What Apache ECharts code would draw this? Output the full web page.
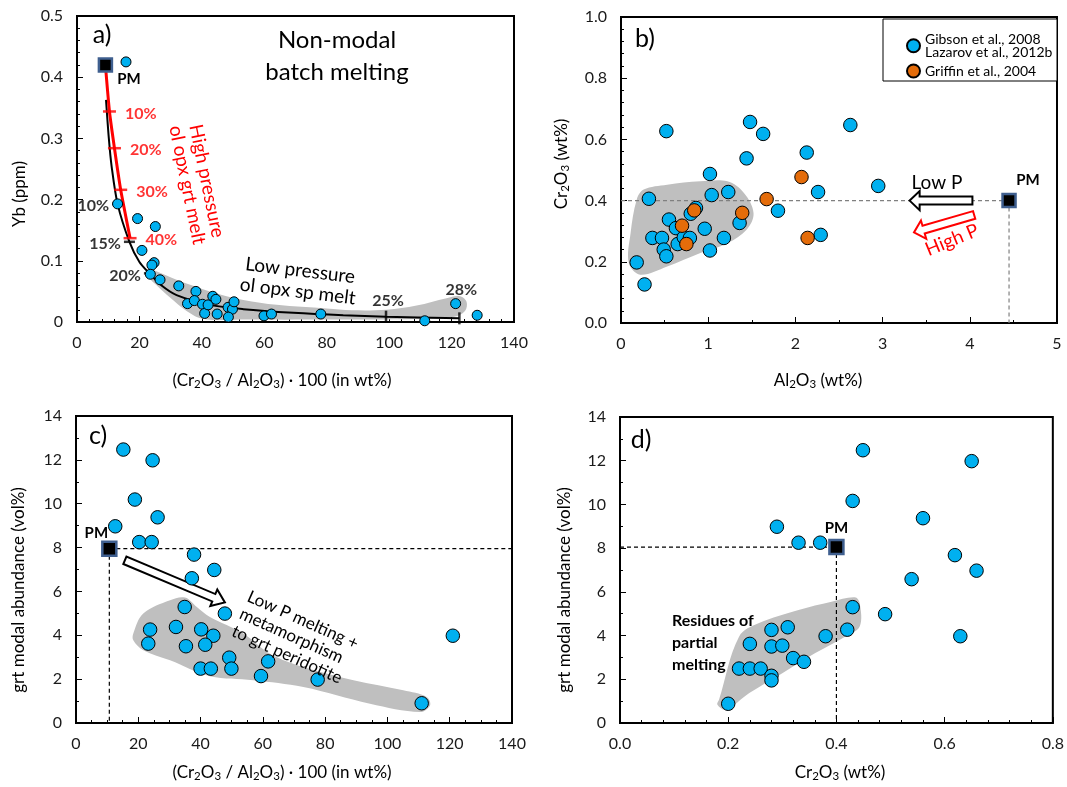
<!DOCTYPE html>
<html><head><meta charset="utf-8">
<script src="https://cdn.jsdelivr.net/npm/echarts@6.0.0/dist/echarts.min.js"></script>
<style>html,body{margin:0;padding:0;background:#fff}#c{width:1067px;height:787px}</style>
</head><body><div id="c"></div>
<script>
// ---------------- DATA ----------------
const BLUE_NAME = 'Gibson et al., 2008\nLazarov et al., 2012b';
const ORANGE_NAME = 'Griffin et al., 2004';

// Panel a
const ticksAx = ['0','20','40','60','80','100','120','140'];
const ticksAy = ['0','0.1','0.2','0.3','0.4','0.5'];
const pmA = [9.1, 0.42];
const blueA = [[15.7,0.425],[13.0,0.193],[19.4,0.169],[25.1,0.156],[20.8,0.117],[24.7,0.097],[24.0,0.093],[23.5,0.078],[26.6,0.069],[32.6,0.059],[38.1,0.050],[35.4,0.030],[37.6,0.035],[40.2,0.029],[40.9,0.014],[42.0,0.028],[43.5,0.042],[44.5,0.037],[44.9,0.013],[48.4,0.024],[49.8,0.021],[50.3,0.033],[48.5,0.008],[59.9,0.010],[62.3,0.013],[78.1,0.013],[111.4,0.002],[121.3,0.030],[128.2,0.011]];
const lowPCurveA = [[9.3,0.363],[10.2,0.30],[11.1,0.254],[13.0,0.193],[16.8,0.131],[20.0,0.098],[23.2,0.0795],[27.0,0.060],[31.9,0.044],[42.6,0.028],[53.3,0.021],[69.3,0.015],[85.3,0.011],[99.0,0.0087],[122.5,0.006]];
const highPTicksA = [[10.4,0.344],[12.0,0.284],[14.0,0.216],[17.0,0.137]];
const highPLabelsA = ['10%','20%','30%','40%'];
const lowPTicksHA = [[13.0,0.193],[16.8,0.131],[23.2,0.0795]];
const lowPLabelsHA = ['10%','15%','20%'];
const lowPTicksVA = [[99.0,0.0087],[122.5,0.006]];
const lowPLabelsVA = ['25%','28%'];
const polyA = [[23.6,0.086],[25.8,0.082],[31.9,0.069],[42.6,0.050],[53.3,0.036],[64,0.028],[80,0.022],[88,0.019],[99.2,0.020],[108.8,0.027],[118.4,0.039],[122.7,0.042],[124.8,0.033],[124.3,0.018],[120.5,0.008],[108.8,0.005],[80,0.004],[55,0.004],[40.5,0.005],[35.1,0.018],[29.8,0.040],[25.5,0.060],[23.0,0.074]];

// Panel b
const ticksBx = ['0','1','2','3','4','5'];
const ticksBy = ['0.0','0.2','0.4','0.6','0.8','1.0'];
const pmB = [4.45, 0.40];
const blueB = [[0.52,0.627],[0.32,0.406],[0.18,0.198],[0.27,0.126],[0.36,0.278],[0.47,0.278],[0.55,0.338],[0.49,0.240],[0.52,0.218],[0.65,0.258],[0.63,0.310],[0.72,0.280],[0.79,0.278],[0.80,0.357],[0.86,0.376],[0.96,0.308],[1.02,0.487],[1.04,0.418],[1.23,0.428],[1.18,0.278],[1.02,0.237],[1.36,0.327],[1.48,0.657],[1.44,0.538],[1.63,0.618],[1.80,0.367],[2.13,0.557],[2.26,0.428],[2.29,0.288],[2.63,0.647],[2.95,0.448]];
const orangeB = [[0.70,0.318],[0.75,0.258],[0.84,0.368],[1.39,0.360],[1.67,0.405],[2.07,0.477],[2.14,0.278]];
const polyB = [[0.26,0.436],[0.53,0.452],[0.91,0.463],[1.22,0.463],[1.41,0.425],[1.52,0.359],[1.44,0.305],[1.22,0.261],[0.91,0.229],[0.53,0.185],[0.22,0.158],[0.09,0.196],[0.11,0.294],[0.18,0.403]];
const lowPArrowB = [4.03,0.40,3.31,0.40];
const highPArrowB = [4.05,0.353,3.36,0.296];

// Panel c
const ticksCx = ['0','20','40','60','80','100','120','140'];
const ticksCy = ['0','2','4','6','8','10','12','14'];
const pmC = [10.7, 7.95];
const blueC = [[15.2,12.47],[24.6,11.98],[18.9,10.19],[26.2,9.38],[12.6,8.97],[20.3,8.25],[24.3,8.25],[37.9,7.68],[37.2,6.60],[44.4,6.98],[47.8,4.99],[34.9,5.29],[23.8,4.26],[23.2,3.62],[32.1,4.38],[40.2,4.27],[44.1,3.98],[35.3,3.50],[41.5,3.57],[49.2,2.98],[40.0,2.48],[43.3,2.48],[49.9,2.48],[61.7,2.81],[59.4,2.14],[77.6,1.98],[111.0,0.90],[121.0,3.98]];
const polyC = [[18.4,4.08],[21.6,4.99],[30.2,5.60],[35.0,5.72],[38.8,5.29],[43.0,4.83],[53.7,4.08],[62.3,3.16],[73.0,2.55],[89.1,1.95],[105.1,1.49],[112.6,1.19],[113.7,0.81],[110.5,0.50],[94.4,0.88],[73.0,1.64],[56.9,1.95],[43.0,2.13],[30.2,2.86],[21.6,3.32],[18.4,3.77]];
const arrowC = [15.7,7.42,47.8,5.50];

// Panel d
const ticksDx = ['0.0','0.2','0.4','0.6','0.8'];
const ticksDy = ['0','2','4','6','8','10','12','14'];
const pmD = [0.40, 8.05];
const blueD = [[0.449,12.48],[0.650,11.98],[0.430,10.16],[0.560,9.37],[0.290,8.98],[0.330,8.25],[0.370,8.25],[0.619,7.68],[0.659,6.97],[0.539,6.58],[0.430,5.30],[0.490,4.98],[0.629,3.97],[0.420,4.27],[0.380,3.97],[0.310,4.38],[0.280,4.26],[0.240,3.62],[0.280,3.50],[0.300,3.54],[0.320,2.97],[0.340,2.80],[0.220,2.49],[0.240,2.49],[0.260,2.49],[0.280,2.16],[0.280,1.95],[0.200,0.88]];
const polyD = [[0.183,1.06],[0.220,3.95],[0.257,4.57],[0.330,5.17],[0.391,5.55],[0.434,5.75],[0.443,5.48],[0.443,4.41],[0.416,3.95],[0.361,3.20],[0.300,2.28],[0.239,1.37],[0.196,0.61],[0.180,0.84]];

// ---------------- STYLE ----------------
const FONT = 'Lato, "Open Sans", "DejaVu Sans", sans-serif';
const BLUE = '#00B0F0', ORANGE = '#E46C0A', GREY = '#BFBFBF', RED = '#FF0000', PMB = '#3F5F8F';

function mkAxis(dim, gi, ticks, minorSplit) {
  const vals = ticks.map(Number);
  const min = vals[0], max = vals[vals.length-1];
  const interval = +(vals[1]-vals[0]).toFixed(6);
  return {
    type:'value', gridIndex:gi, min, max, interval,
    axisLine:{show:true, onZero:false, lineStyle:{color:'#000', width:2}},
    axisTick:{show:true, inside:true, length:6, lineStyle:{color:'#000', width:1}},
    minorTick:{show:true, splitNumber:minorSplit, length:3, lineStyle:{color:'#000', width:1}},
    splitLine:{show:false}, minorSplitLine:{show:false},
    axisLabel:{color:'#1a1a1a', fontSize:16, fontFamily:FONT, margin: dim==='x' ? 13 : 14,
      formatter: v => { const i = Math.round((v-min)/interval); return ticks[i] !== undefined ? ticks[i] : ''; }}
  };
}

function polySeries(gi, pts) {
  return {type:'custom', xAxisIndex:gi, yAxisIndex:gi, z:1, silent:true, data:pts, encode:{x:0, y:1},
    renderItem:(params, api) => params.dataIndex === 0 ? {type:'polygon', shape:{points:pts.map(p => api.coord(p)), smooth:0.35}, style:{fill:GREY}} : null};
}
function arrowSeries(gi, seg, color, shaft, head, headLen, lw) {
  return {type:'custom', xAxisIndex:gi, yAxisIndex:gi, z:5, silent:true, data:[seg], dimensions:['x1','y1','x2','y2'], encode:{x:[0,2], y:[1,3]},
    renderItem:(params, api) => {
      const p1 = api.coord([api.value(0), api.value(1)]), p2 = api.coord([api.value(2), api.value(3)]);
      const dx = p2[0]-p1[0], dy = p2[1]-p1[1], L = Math.hypot(dx, dy), ux = dx/L, uy = dy/L, nx = -uy, ny = ux;
      const sw = shaft/2, hw = head/2, bx = p2[0]-ux*headLen, by = p2[1]-uy*headLen;
      const pts = [[p1[0]+nx*sw,p1[1]+ny*sw],[bx+nx*sw,by+ny*sw],[bx+nx*hw,by+ny*hw],[p2[0],p2[1]],[bx-nx*hw,by-ny*hw],[bx-nx*sw,by-ny*sw],[p1[0]-nx*sw,p1[1]-ny*sw]];
      return {type:'polygon', shape:{points:pts}, style:{fill:'#fff', stroke:color, lineWidth:lw}};
    }};
}
function dashed(gi, pts, color) {
  return {type:'line', xAxisIndex:gi, yAxisIndex:gi, data:pts, symbol:'none', silent:true, z:2,
    lineStyle:{color, width:1.2, type:[4,3]}};
}
function blueSeries(gi, data, size) {
  return {type:'scatter', name:BLUE_NAME, xAxisIndex:gi, yAxisIndex:gi, data, symbolSize:size, z:6,
    itemStyle:{color:BLUE, borderColor:'#000', borderWidth:1, opacity:1}};
}
function pmSeries(gi, pm, size, labelCfg) {
  return {type:'scatter', name:'PM', xAxisIndex:gi, yAxisIndex:gi, data:[pm], symbol:'rect', symbolSize:size, z:7,
    itemStyle:{color:'#000', borderColor:PMB, borderWidth:2.5, opacity:1},
    label:Object.assign({show:true, formatter:'PM', color:'#000', fontWeight:'bold', fontSize:15, fontFamily:FONT}, labelCfg)};
}

const series = [
  // ---- a
  polySeries(0, polyA),
  {type:'line', xAxisIndex:0, yAxisIndex:0, data:lowPCurveA, symbol:'none', smooth:0.3, z:3, silent:true, lineStyle:{color:'#000', width:2}},
  {type:'line', xAxisIndex:0, yAxisIndex:0, data:[pmA].concat(highPTicksA), symbol:'none', smooth:0.2, z:4, silent:true, lineStyle:{color:RED, width:3}},
  {type:'scatter', xAxisIndex:0, yAxisIndex:0, data:highPTicksA, symbol:'rect', symbolSize:[13,2.5], z:5, silent:true,
    itemStyle:{color:RED}, label:{show:true, position:'right', distance:9, formatter:p => highPLabelsA[p.dataIndex], color:RED, fontWeight:'bold', fontSize:16, fontFamily:FONT, offset:[0,2]}},
  {type:'scatter', xAxisIndex:0, yAxisIndex:0, data:lowPTicksHA, symbol:'rect', symbolSize:[11,2.5], z:5, silent:true,
    itemStyle:{color:'#000'}, label:{show:true, position:'left', distance:3, formatter:p => lowPLabelsHA[p.dataIndex], color:'#000', fontWeight:'bold', fontSize:16, fontFamily:FONT, offset:[0,2]}},
  {type:'scatter', xAxisIndex:0, yAxisIndex:0, data:lowPTicksVA.map((v,i) => ({value:v, label:{offset:[2, i === 1 ? -12 : 0]}})), symbol:'rect', symbolSize:[2.5,12], z:5, silent:true,
    itemStyle:{color:'#000'}, label:{show:true, position:'top', distance:2, formatter:p => lowPLabelsVA[p.dataIndex], color:'#000', fontWeight:'bold', fontSize:16, fontFamily:FONT}},
  blueSeries(0, blueA, 10),
  pmSeries(0, pmA, 13, {position:'right', distance:4, offset:[0,14]}),
  // ---- b
  polySeries(1, polyB),
  dashed(1, [[0, pmB[1]], pmB], '#808080'),
  dashed(1, [pmB, [pmB[0], 0]], '#808080'),
  arrowSeries(1, lowPArrowB, '#000', 8, 19, 10, 2),
  arrowSeries(1, highPArrowB, RED, 8, 19, 10, 2),
  blueSeries(1, blueB, 13.5),
  {type:'scatter', name:ORANGE_NAME, xAxisIndex:1, yAxisIndex:1, data:orangeB, symbolSize:13.5, z:6,
    itemStyle:{color:ORANGE, borderColor:'#000', borderWidth:1, opacity:1}},
  pmSeries(1, pmB, 13, {position:'top', distance:5, offset:[19,0]}),
  // ---- c
  polySeries(2, polyC),
  dashed(2, [pmC, [140, pmC[1]]], '#000'),
  dashed(2, [pmC, [pmC[0], 0]], '#000'),
  arrowSeries(2, arrowC, '#000', 8, 18, 12, 2),
  blueSeries(2, blueC, 13.5),
  pmSeries(2, pmC, 14, {position:'top', distance:2, offset:[-13,2]}),
  // ---- d
  polySeries(3, polyD),
  dashed(3, [[0, pmD[1]], pmD], '#000'),
  dashed(3, [pmD, [pmD[0], 0]], '#000'),
  blueSeries(3, blueD, 13.5),
  pmSeries(3, pmD, 14, {position:'top', distance:3, offset:[0,0]})
];

// ---------------- TEXT (graphic) ----------------
const SUB = {n:{fontSize:17, fontFamily:FONT, fill:'#000'}, s:{fontSize:11.5, fontFamily:FONT, fill:'#000', padding:[7,0,0,0]}};
function txt(x, y, text, o) {
  o = o || {};
  return {type:'text', x, y, rotation:o.rot || 0, z:100, silent:true,
    style:{text, fontFamily:FONT, fontSize:o.size || 17, fill:o.color || '#000', fontWeight:o.bold ? 'bold' : 'normal',
      align:o.align || 'center', verticalAlign:o.va || 'middle', textAlign:o.align || 'center', textVerticalAlign:o.va || 'middle',
      lineHeight:o.lh, rich:o.rich}};
}
const crAl = '{n|(Cr}{s|2}{n|O}{s|3}{n| / Al}{s|2}{n|O}{s|3}{n|) · 100 (in wt%)}';
const graphic = [
  {type:'rect', shape:{x:883, y:19, width:174, height:62}, style:{fill:'#fff', stroke:'#000', lineWidth:1}, z:3, silent:true},
  txt(102, 35, 'a)', {size:25}),
  txt(645, 39, 'b)', {size:25}),
  txt(98, 436, 'c)', {size:25}),
  txt(641, 440, 'd)', {size:25}),
  txt(337, 56, 'Non-modal\nbatch melting', {size:24, lh:32}),
  txt(299, 281, 'Low pressure\nol opx sp melt', {size:19, lh:21, rot:-0.12}),
  txt(197, 183, 'High pressure\nol opx grt melt', {size:19, lh:20, rot:-1.37, color:RED}),
  txt(937, 183, 'Low P', {size:19}),
  txt(952, 240, 'High P', {size:19, color:RED, rot:0.39}),
  txt(252, 587, 'Low P melting +\nmetamorphism\nto grt peridotite', {size:17, lh:19, rot:-0.42, align:'left', va:'top'}),
  txt(672, 643, 'Residues of\npartial\nmelting', {size:16, lh:21.7, bold:true, align:'left'}),
  // axis titles
  txt(282, 381, crAl, {rich:SUB}),
  txt(818, 381, '{n|Al}{s|2}{n|O}{s|3}{n| (wt%)}', {rich:SUB}),
  txt(282, 773, crAl, {rich:SUB}),
  txt(840, 773, '{n|Cr}{s|2}{n|O}{s|3}{n| (wt%)}', {rich:SUB}),
  txt(20, 194, 'Yb (ppm)', {rot:Math.PI/2}),
  txt(562, 164, '{n|Cr}{s|2}{n|O}{s|3}{n| (wt%)}', {rot:Math.PI/2, rich:SUB}),
  txt(19, 590, 'grt modal abundance (vol%)', {rot:Math.PI/2}),
  txt(565, 590, 'grt modal abundance (vol%)', {rot:Math.PI/2})
];

const gridBase = {show:true, borderColor:'#000', borderWidth:2, backgroundColor:'transparent', containLabel:false};
const option = {
  animation:false,
  backgroundColor:'#fff',
  grid:[
    Object.assign({left:77, top:16, width:437, height:306}, gridBase),
    Object.assign({left:621, top:17, width:436, height:306}, gridBase),
    Object.assign({left:76, top:416, width:436, height:307}, gridBase),
    Object.assign({left:620, top:417, width:436, height:306}, gridBase)
  ],
  xAxis:[mkAxis('x',0,ticksAx,5), mkAxis('x',1,ticksBx,2), mkAxis('x',2,ticksCx,4), mkAxis('x',3,ticksDx,5)],
  yAxis:[mkAxis('y',0,ticksAy,5), mkAxis('y',1,ticksBy,5), mkAxis('y',2,ticksCy,2), mkAxis('y',3,ticksDy,2)],
  legend:{show:true, orient:'vertical', left:901, top:27, itemWidth:13, itemHeight:13, itemGap:4, selectedMode:false, z:10,
    data:[{name:BLUE_NAME, icon:'circle'}, {name:ORANGE_NAME, icon:'circle'}],
    textStyle:{fontSize:14, lineHeight:13.5, fontFamily:FONT, color:'#000'}},
  series,
  graphic
};
const chart = echarts.init(document.getElementById('c'), null, {renderer:'canvas'});
chart.setOption(option);
</script></body></html>
